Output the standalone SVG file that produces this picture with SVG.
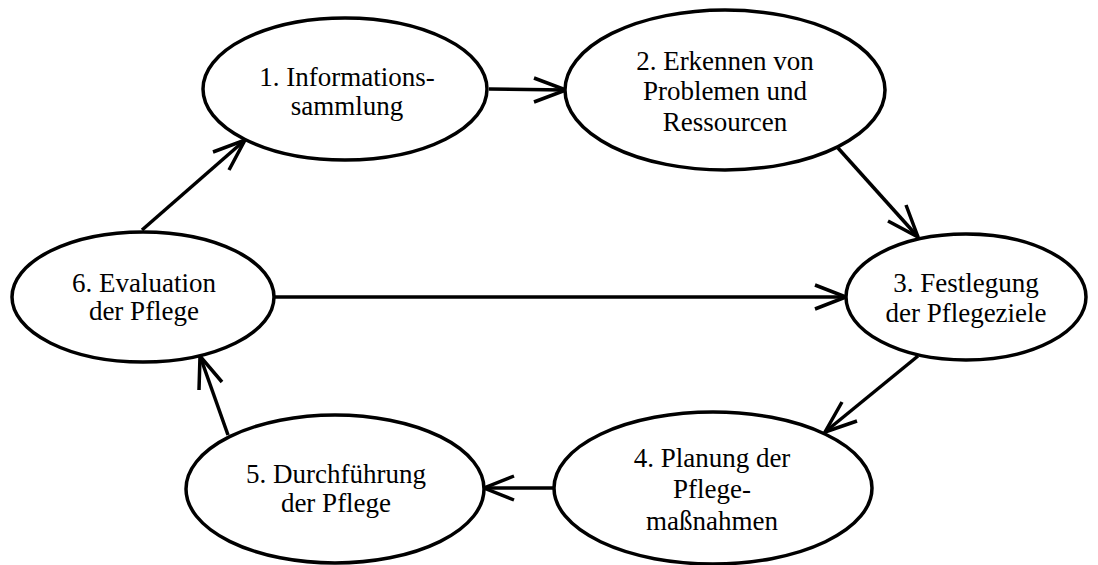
<svg xmlns="http://www.w3.org/2000/svg" width="1098" height="565" viewBox="0 0 1098 565">
<style>
.n ellipse{fill:#fff;stroke:#000;stroke-width:3.5}
.c line,.c path{stroke:#000;stroke-width:3.5;fill:none}
</style>
<rect width="1098" height="565" fill="#fff"/>
<g class="c" id="connectors">
<line x1="489" y1="89" x2="566" y2="90"/>
<path d="M534,78 L566,90 L534,102"/>
<line x1="838" y1="148" x2="918" y2="237"/>
<line x1="275" y1="297" x2="846" y2="297"/>
<path d="M815,285 L846,297 L815,309"/>
<line x1="918" y1="356" x2="825" y2="432"/>
<line x1="554" y1="488" x2="484" y2="488"/>
<path d="M514,476 L484,488 L514,500"/>
<line x1="228" y1="435" x2="200" y2="356"/>
<line x1="142" y1="230" x2="245" y2="140"/>
<path d="M888,221 L918,237 L906,205"/>
<path d="M842,402 L825,432 L857,421"/>
<path d="M222,382 L200,356 L199,390"/>
<path d="M229,170 L245,140 L213,152"/>
</g>
<g font-family="'Liberation Serif', 'DejaVu Serif', serif" font-size="27" fill="#000" text-anchor="middle">
<g class="n" id="n1"><ellipse cx="345" cy="89" rx="142" ry="71"/><text x="347" y="86">1. Informations-</text><text x="347" y="115">sammlung</text></g>
<g class="n" id="n2"><ellipse cx="725" cy="90" rx="160" ry="80"/><text x="725" y="70">2. Erkennen von</text><text x="725" y="100">Problemen und</text><text x="725" y="131">Ressourcen</text></g>
<g class="n" id="n3"><ellipse cx="966" cy="297" rx="120" ry="63"/><text x="966" y="292">3. Festlegung</text><text x="966" y="322">der Pflegeziele</text></g>
<g class="n" id="n4"><ellipse cx="713" cy="488" rx="159" ry="76"/><text x="712" y="467">4. Planung der</text><text x="712" y="498">Pflege-</text><text x="712" y="530">maßnahmen</text></g>
<g class="n" id="n5"><ellipse cx="335" cy="489" rx="149" ry="74"/><text x="336" y="483">5. Durchführung</text><text x="336" y="512">der Pflege</text></g>
<g class="n" id="n6"><ellipse cx="143" cy="297" rx="131" ry="65"/><text x="144" y="292">6. Evaluation</text><text x="144" y="320">der Pflege</text></g>
</g>
</svg>
